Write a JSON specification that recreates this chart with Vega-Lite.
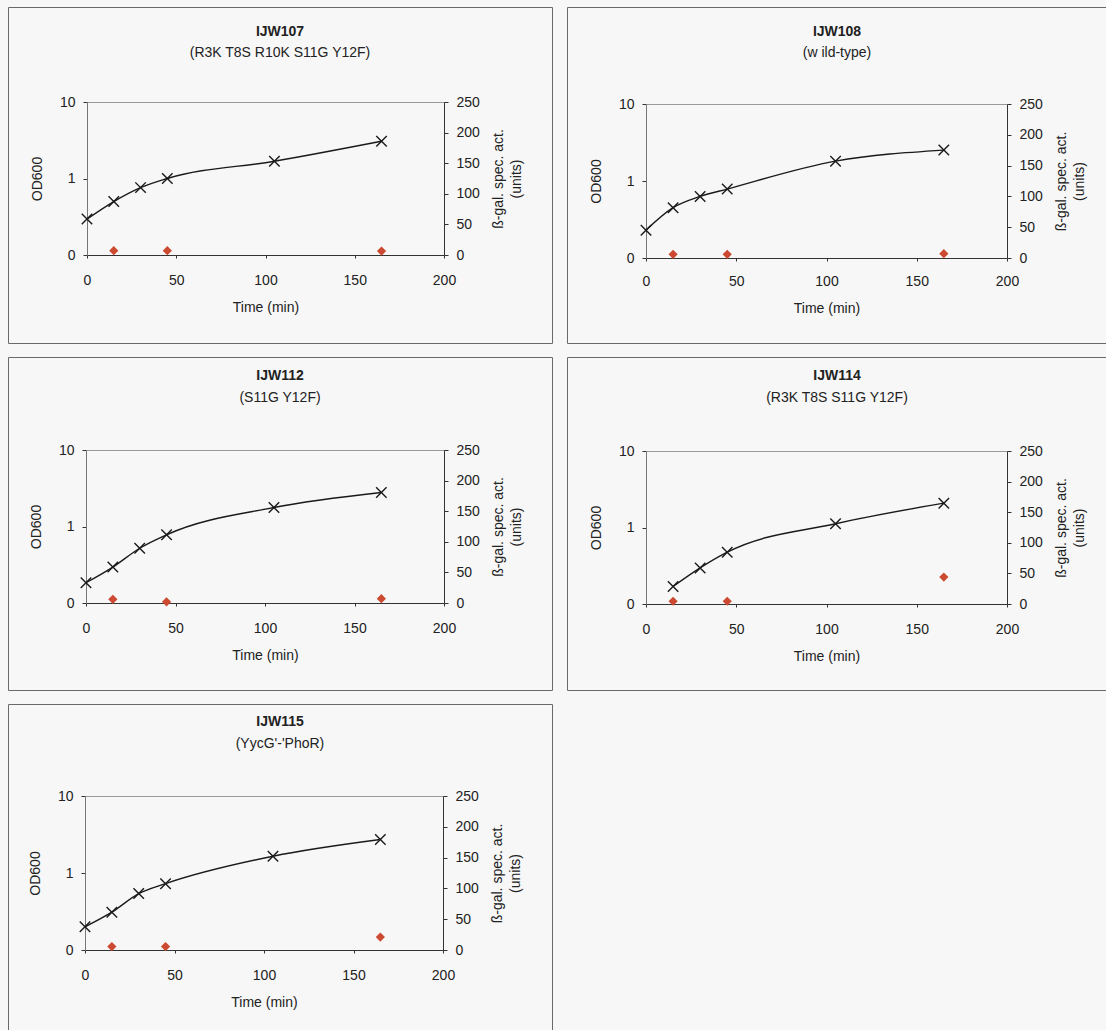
{
  "$schema": "https://vega.github.io/schema/vega-lite/v6.json",
  "padding": {"left": 7, "top": 6, "right": 0, "bottom": 0},
  "background": "#f7f7f7",
  "data": {"values": [
    {"s": "IJW107", "t": 0, "od": 0.295, "bg": null},
    {"s": "IJW107", "t": 15, "od": 0.50, "bg": 7},
    {"s": "IJW107", "t": 30, "od": 0.76, "bg": null},
    {"s": "IJW107", "t": 45, "od": 1.0, "bg": 7},
    {"s": "IJW107", "t": 105, "od": 1.68, "bg": null},
    {"s": "IJW107", "t": 165, "od": 3.07, "bg": 6.5},
    {"s": "IJW108", "t": 0, "od": 0.23, "bg": null},
    {"s": "IJW108", "t": 15, "od": 0.45, "bg": 6},
    {"s": "IJW108", "t": 30, "od": 0.63, "bg": null},
    {"s": "IJW108", "t": 45, "od": 0.786, "bg": 6},
    {"s": "IJW108", "t": 105, "od": 1.81, "bg": null},
    {"s": "IJW108", "t": 165, "od": 2.52, "bg": 7},
    {"s": "IJW112", "t": 0, "od": 0.184, "bg": null},
    {"s": "IJW112", "t": 15, "od": 0.295, "bg": 6},
    {"s": "IJW112", "t": 30, "od": 0.52, "bg": null},
    {"s": "IJW112", "t": 45, "od": 0.78, "bg": 2},
    {"s": "IJW112", "t": 105, "od": 1.77, "bg": null},
    {"s": "IJW112", "t": 165, "od": 2.78, "bg": 7},
    {"s": "IJW114", "t": 15, "od": 0.169, "bg": 4.5},
    {"s": "IJW114", "t": 30, "od": 0.296, "bg": null},
    {"s": "IJW114", "t": 45, "od": 0.475, "bg": 4.5},
    {"s": "IJW114", "t": 105, "od": 1.12, "bg": null},
    {"s": "IJW114", "t": 165, "od": 2.08, "bg": 44},
    {"s": "IJW115", "t": 0, "od": 0.20, "bg": null},
    {"s": "IJW115", "t": 15, "od": 0.31, "bg": 5.5},
    {"s": "IJW115", "t": 30, "od": 0.54, "bg": null},
    {"s": "IJW115", "t": 45, "od": 0.727, "bg": 5.5},
    {"s": "IJW115", "t": 105, "od": 1.65, "bg": null},
    {"s": "IJW115", "t": 165, "od": 2.72, "bg": 21}
  ]},
  "spacing": 12,
  "vconcat": [
    {"hconcat": [
      {
        "width": 544, "height": 336,
        "title": {"text": "IJW107", "subtitle": "(R3K T8S R10K S11G Y12F)", "offset": -53},
        "transform": [{"filter": "datum.s === 'IJW107'"}],
        "layer": [
          {"transform": [{"filter": "isValid(datum.od)"}],
           "layer": [
            {"mark": {"type": "line", "interpolate": "monotone", "color": "#1a1a1a", "strokeWidth": 1.4},
             "encoding": {
               "x": {"field": "t", "type": "quantitative", "scale": {"domain": [0, 200], "range": [79, 436], "nice": false, "zero": false},
                     "axis": {"values": [0, 50, 100, 150, 200], "title": "Time (min)", "offset": -88, "tickSize": 3, "labelPadding": 15, "titlePadding": 13}},
               "y": {"field": "od", "type": "quantitative", "scale": {"type": "log", "domain": [0.1, 10], "range": [248, 95], "nice": false},
                     "axis": {"orient": "left", "values": [0.1, 1, 10], "labelExpr": "datum.value < 0.5 ? '0' : datum.value < 5 ? '1' : '10'", "title": "OD600", "offset": -79, "tickSize": 4, "labelPadding": 8, "titlePadding": 15, "domainColor": "#777", "grid": true, "gridColor": {"condition": {"test": "datum.value > 5", "value": "#999999"}, "value": "transparent"}}}
             }},
            {"mark": {"type": "point", "shape": "M-1,-1L1,1M-1,1L1,-1", "filled": false, "color": "#1a1a1a", "size": 110, "strokeWidth": 1.4, "opacity": 1},
             "encoding": {"x": {"field": "t", "type": "quantitative"}, "y": {"field": "od", "type": "quantitative"}}}
          ]},
          {"transform": [{"filter": "isValid(datum.bg)"}],
           "mark": {"type": "point", "shape": "diamond", "filled": true, "color": "#cc4a32", "size": 85, "opacity": 1},
           "encoding": {"x": {"field": "t", "type": "quantitative"},
             "y": {"field": "bg", "type": "quantitative", "scale": {"domain": [0, 250], "range": [248, 95], "nice": false},
               "axis": {"orient": "right", "values": [0, 50, 100, 150, 200, 250], "title": ["ß-gal. spec. act.", "(units)"], "titleAngle": 270, "titleBaseline": "top", "titleLineHeight": 18, "offset": -108, "tickSize": 4, "labelPadding": 8, "titlePadding": -6}}}}
        ],
        "resolve": {"scale": {"y": "independent"}}
      },
      {
        "width": 540, "height": 336,
        "title": {"text": "IJW108", "subtitle": "(w ild-type)", "offset": -53},
        "transform": [{"filter": "datum.s === 'IJW108'"}],
        "layer": [
          {"transform": [{"filter": "isValid(datum.od)"}],
           "layer": [
            {"mark": {"type": "line", "interpolate": "monotone", "color": "#1a1a1a", "strokeWidth": 1.4},
             "encoding": {
               "x": {"field": "t", "type": "quantitative", "scale": {"domain": [0, 200], "range": [79, 440], "nice": false, "zero": false},
                     "axis": {"values": [0, 50, 100, 150, 200], "title": "Time (min)", "offset": -85, "tickSize": 3, "labelPadding": 13, "titlePadding": 13}},
               "y": {"field": "od", "type": "quantitative", "scale": {"type": "log", "domain": [0.1, 10], "range": [251, 97], "nice": false},
                     "axis": {"orient": "left", "values": [0.1, 1, 10], "labelExpr": "datum.value < 0.5 ? '0' : datum.value < 5 ? '1' : '10'", "title": "OD600", "offset": -79, "tickSize": 4, "labelPadding": 8, "titlePadding": 15, "domainColor": "#777", "grid": true, "gridColor": {"condition": {"test": "datum.value > 5", "value": "#999999"}, "value": "transparent"}}}
             }},
            {"mark": {"type": "point", "shape": "M-1,-1L1,1M-1,1L1,-1", "filled": false, "color": "#1a1a1a", "size": 110, "strokeWidth": 1.4, "opacity": 1},
             "encoding": {"x": {"field": "t", "type": "quantitative"}, "y": {"field": "od", "type": "quantitative"}}}
          ]},
          {"transform": [{"filter": "isValid(datum.bg)"}],
           "mark": {"type": "point", "shape": "diamond", "filled": true, "color": "#cc4a32", "size": 85, "opacity": 1},
           "encoding": {"x": {"field": "t", "type": "quantitative"},
             "y": {"field": "bg", "type": "quantitative", "scale": {"domain": [0, 250], "range": [251, 97], "nice": false},
               "axis": {"orient": "right", "values": [0, 50, 100, 150, 200, 250], "title": ["ß-gal. spec. act.", "(units)"], "titleAngle": 270, "titleBaseline": "top", "titleLineHeight": 18, "offset": -100, "tickSize": 4, "labelPadding": 8, "titlePadding": -6}}}}
        ],
        "resolve": {"scale": {"y": "independent"}}
      }
    ], "spacing": 13},
    {"hconcat": [
      {
        "width": 544, "height": 333,
        "title": {"text": "IJW112", "subtitle": "(S11G Y12F)", "offset": -47.5},
        "transform": [{"filter": "datum.s === 'IJW112'"}],
        "layer": [
          {"transform": [{"filter": "isValid(datum.od)"}],
           "layer": [
            {"mark": {"type": "line", "interpolate": "monotone", "color": "#1a1a1a", "strokeWidth": 1.4},
             "encoding": {
               "x": {"field": "t", "type": "quantitative", "scale": {"domain": [0, 200], "range": [78, 436], "nice": false, "zero": false},
                     "axis": {"values": [0, 50, 100, 150, 200], "title": "Time (min)", "offset": -87, "tickSize": 3, "labelPadding": 15, "titlePadding": 13}},
               "y": {"field": "od", "type": "quantitative", "scale": {"type": "log", "domain": [0.1, 10], "range": [246, 93], "nice": false},
                     "axis": {"orient": "left", "values": [0.1, 1, 10], "labelExpr": "datum.value < 0.5 ? '0' : datum.value < 5 ? '1' : '10'", "title": "OD600", "offset": -78, "tickSize": 4, "labelPadding": 8, "titlePadding": 15, "domainColor": "#777", "grid": true, "gridColor": {"condition": {"test": "datum.value > 5", "value": "#999999"}, "value": "transparent"}}}
             }},
            {"mark": {"type": "point", "shape": "M-1,-1L1,1M-1,1L1,-1", "filled": false, "color": "#1a1a1a", "size": 110, "strokeWidth": 1.4, "opacity": 1},
             "encoding": {"x": {"field": "t", "type": "quantitative"}, "y": {"field": "od", "type": "quantitative"}}}
          ]},
          {"transform": [{"filter": "isValid(datum.bg)"}],
           "mark": {"type": "point", "shape": "diamond", "filled": true, "color": "#cc4a32", "size": 85, "opacity": 1},
           "encoding": {"x": {"field": "t", "type": "quantitative"},
             "y": {"field": "bg", "type": "quantitative", "scale": {"domain": [0, 250], "range": [246, 93], "nice": false},
               "axis": {"orient": "right", "values": [0, 50, 100, 150, 200, 250], "title": ["ß-gal. spec. act.", "(units)"], "titleAngle": 270, "titleBaseline": "top", "titleLineHeight": 18, "offset": -108, "tickSize": 4, "labelPadding": 8, "titlePadding": -6}}}}
        ],
        "resolve": {"scale": {"y": "independent"}}
      },
      {
        "width": 540, "height": 333,
        "title": {"text": "IJW114", "subtitle": "(R3K T8S S11G Y12F)", "offset": -47.5},
        "transform": [{"filter": "datum.s === 'IJW114'"}],
        "layer": [
          {"transform": [{"filter": "isValid(datum.od)"}],
           "layer": [
            {"mark": {"type": "line", "interpolate": "monotone", "color": "#1a1a1a", "strokeWidth": 1.4},
             "encoding": {
               "x": {"field": "t", "type": "quantitative", "scale": {"domain": [0, 200], "range": [79, 440], "nice": false, "zero": false},
                     "axis": {"values": [0, 50, 100, 150, 200], "title": "Time (min)", "offset": -86, "tickSize": 3, "labelPadding": 15, "titlePadding": 13}},
               "y": {"field": "od", "type": "quantitative", "scale": {"type": "log", "domain": [0.1, 10], "range": [247, 94], "nice": false},
                     "axis": {"orient": "left", "values": [0.1, 1, 10], "labelExpr": "datum.value < 0.5 ? '0' : datum.value < 5 ? '1' : '10'", "title": "OD600", "offset": -79, "tickSize": 4, "labelPadding": 8, "titlePadding": 15, "domainColor": "#777", "grid": true, "gridColor": {"condition": {"test": "datum.value > 5", "value": "#999999"}, "value": "transparent"}}}
             }},
            {"mark": {"type": "point", "shape": "M-1,-1L1,1M-1,1L1,-1", "filled": false, "color": "#1a1a1a", "size": 110, "strokeWidth": 1.4, "opacity": 1},
             "encoding": {"x": {"field": "t", "type": "quantitative"}, "y": {"field": "od", "type": "quantitative"}}}
          ]},
          {"transform": [{"filter": "isValid(datum.bg)"}],
           "mark": {"type": "point", "shape": "diamond", "filled": true, "color": "#cc4a32", "size": 85, "opacity": 1},
           "encoding": {"x": {"field": "t", "type": "quantitative"},
             "y": {"field": "bg", "type": "quantitative", "scale": {"domain": [0, 250], "range": [247, 94], "nice": false},
               "axis": {"orient": "right", "values": [0, 50, 100, 150, 200, 250], "title": ["ß-gal. spec. act.", "(units)"], "titleAngle": 270, "titleBaseline": "top", "titleLineHeight": 18, "offset": -100, "tickSize": 4, "labelPadding": 8, "titlePadding": -6}}}}
        ],
        "resolve": {"scale": {"y": "independent"}}
      }
    ], "spacing": 13},
    {"hconcat": [
      {
        "width": 544, "height": 328,
        "title": {"text": "IJW115", "subtitle": "(YycG'-'PhoR)", "offset": -46.5},
        "transform": [{"filter": "datum.s === 'IJW115'"}],
        "layer": [
          {"transform": [{"filter": "isValid(datum.od)"}],
           "layer": [
            {"mark": {"type": "line", "interpolate": "monotone", "color": "#1a1a1a", "strokeWidth": 1.4},
             "encoding": {
               "x": {"field": "t", "type": "quantitative", "scale": {"domain": [0, 200], "range": [77, 435], "nice": false, "zero": false},
                     "axis": {"values": [0, 50, 100, 150, 200], "title": "Time (min)", "offset": -82, "tickSize": 3, "labelPadding": 15, "titlePadding": 13}},
               "y": {"field": "od", "type": "quantitative", "scale": {"type": "log", "domain": [0.1, 10], "range": [246, 92], "nice": false},
                     "axis": {"orient": "left", "values": [0.1, 1, 10], "labelExpr": "datum.value < 0.5 ? '0' : datum.value < 5 ? '1' : '10'", "title": "OD600", "offset": -77, "tickSize": 4, "labelPadding": 8, "titlePadding": 15, "domainColor": "#777", "grid": true, "gridColor": {"condition": {"test": "datum.value > 5", "value": "#999999"}, "value": "transparent"}}}
             }},
            {"mark": {"type": "point", "shape": "M-1,-1L1,1M-1,1L1,-1", "filled": false, "color": "#1a1a1a", "size": 110, "strokeWidth": 1.4, "opacity": 1},
             "encoding": {"x": {"field": "t", "type": "quantitative"}, "y": {"field": "od", "type": "quantitative"}}}
          ]},
          {"transform": [{"filter": "isValid(datum.bg)"}],
           "mark": {"type": "point", "shape": "diamond", "filled": true, "color": "#cc4a32", "size": 85, "opacity": 1},
           "encoding": {"x": {"field": "t", "type": "quantitative"},
             "y": {"field": "bg", "type": "quantitative", "scale": {"domain": [0, 250], "range": [246, 92], "nice": false},
               "axis": {"orient": "right", "values": [0, 50, 100, 150, 200, 250], "title": ["ß-gal. spec. act.", "(units)"], "titleAngle": 270, "titleBaseline": "top", "titleLineHeight": 18, "offset": -109, "tickSize": 4, "labelPadding": 8, "titlePadding": -6}}}}
        ],
        "resolve": {"scale": {"y": "independent"}}
      }
    ]}
  ],
  "config": {
    "font": "Liberation Sans",
    "view": {"stroke": "#6a6a6a", "strokeWidth": 1},
    "axis": {
      "labelFont": "Liberation Sans", "titleFont": "Liberation Sans",
      "labelFontSize": 14, "titleFontSize": 14, "titleFontWeight": "normal",
      "labelColor": "#222222", "titleColor": "#222222",
      "domainColor": "#333333", "tickColor": "#333333",
      "labelFlush": false, "labelOverlap": false, "grid": false
    },
    "title": {
      "font": "Liberation Sans", "fontSize": 14, "fontWeight": "bold", "color": "#222222",
      "subtitleFont": "Liberation Sans", "subtitleFontSize": 14, "subtitleColor": "#222222",
      "subtitlePadding": 7.5, "anchor": "middle", "frame": "group"
    }
  }
}
